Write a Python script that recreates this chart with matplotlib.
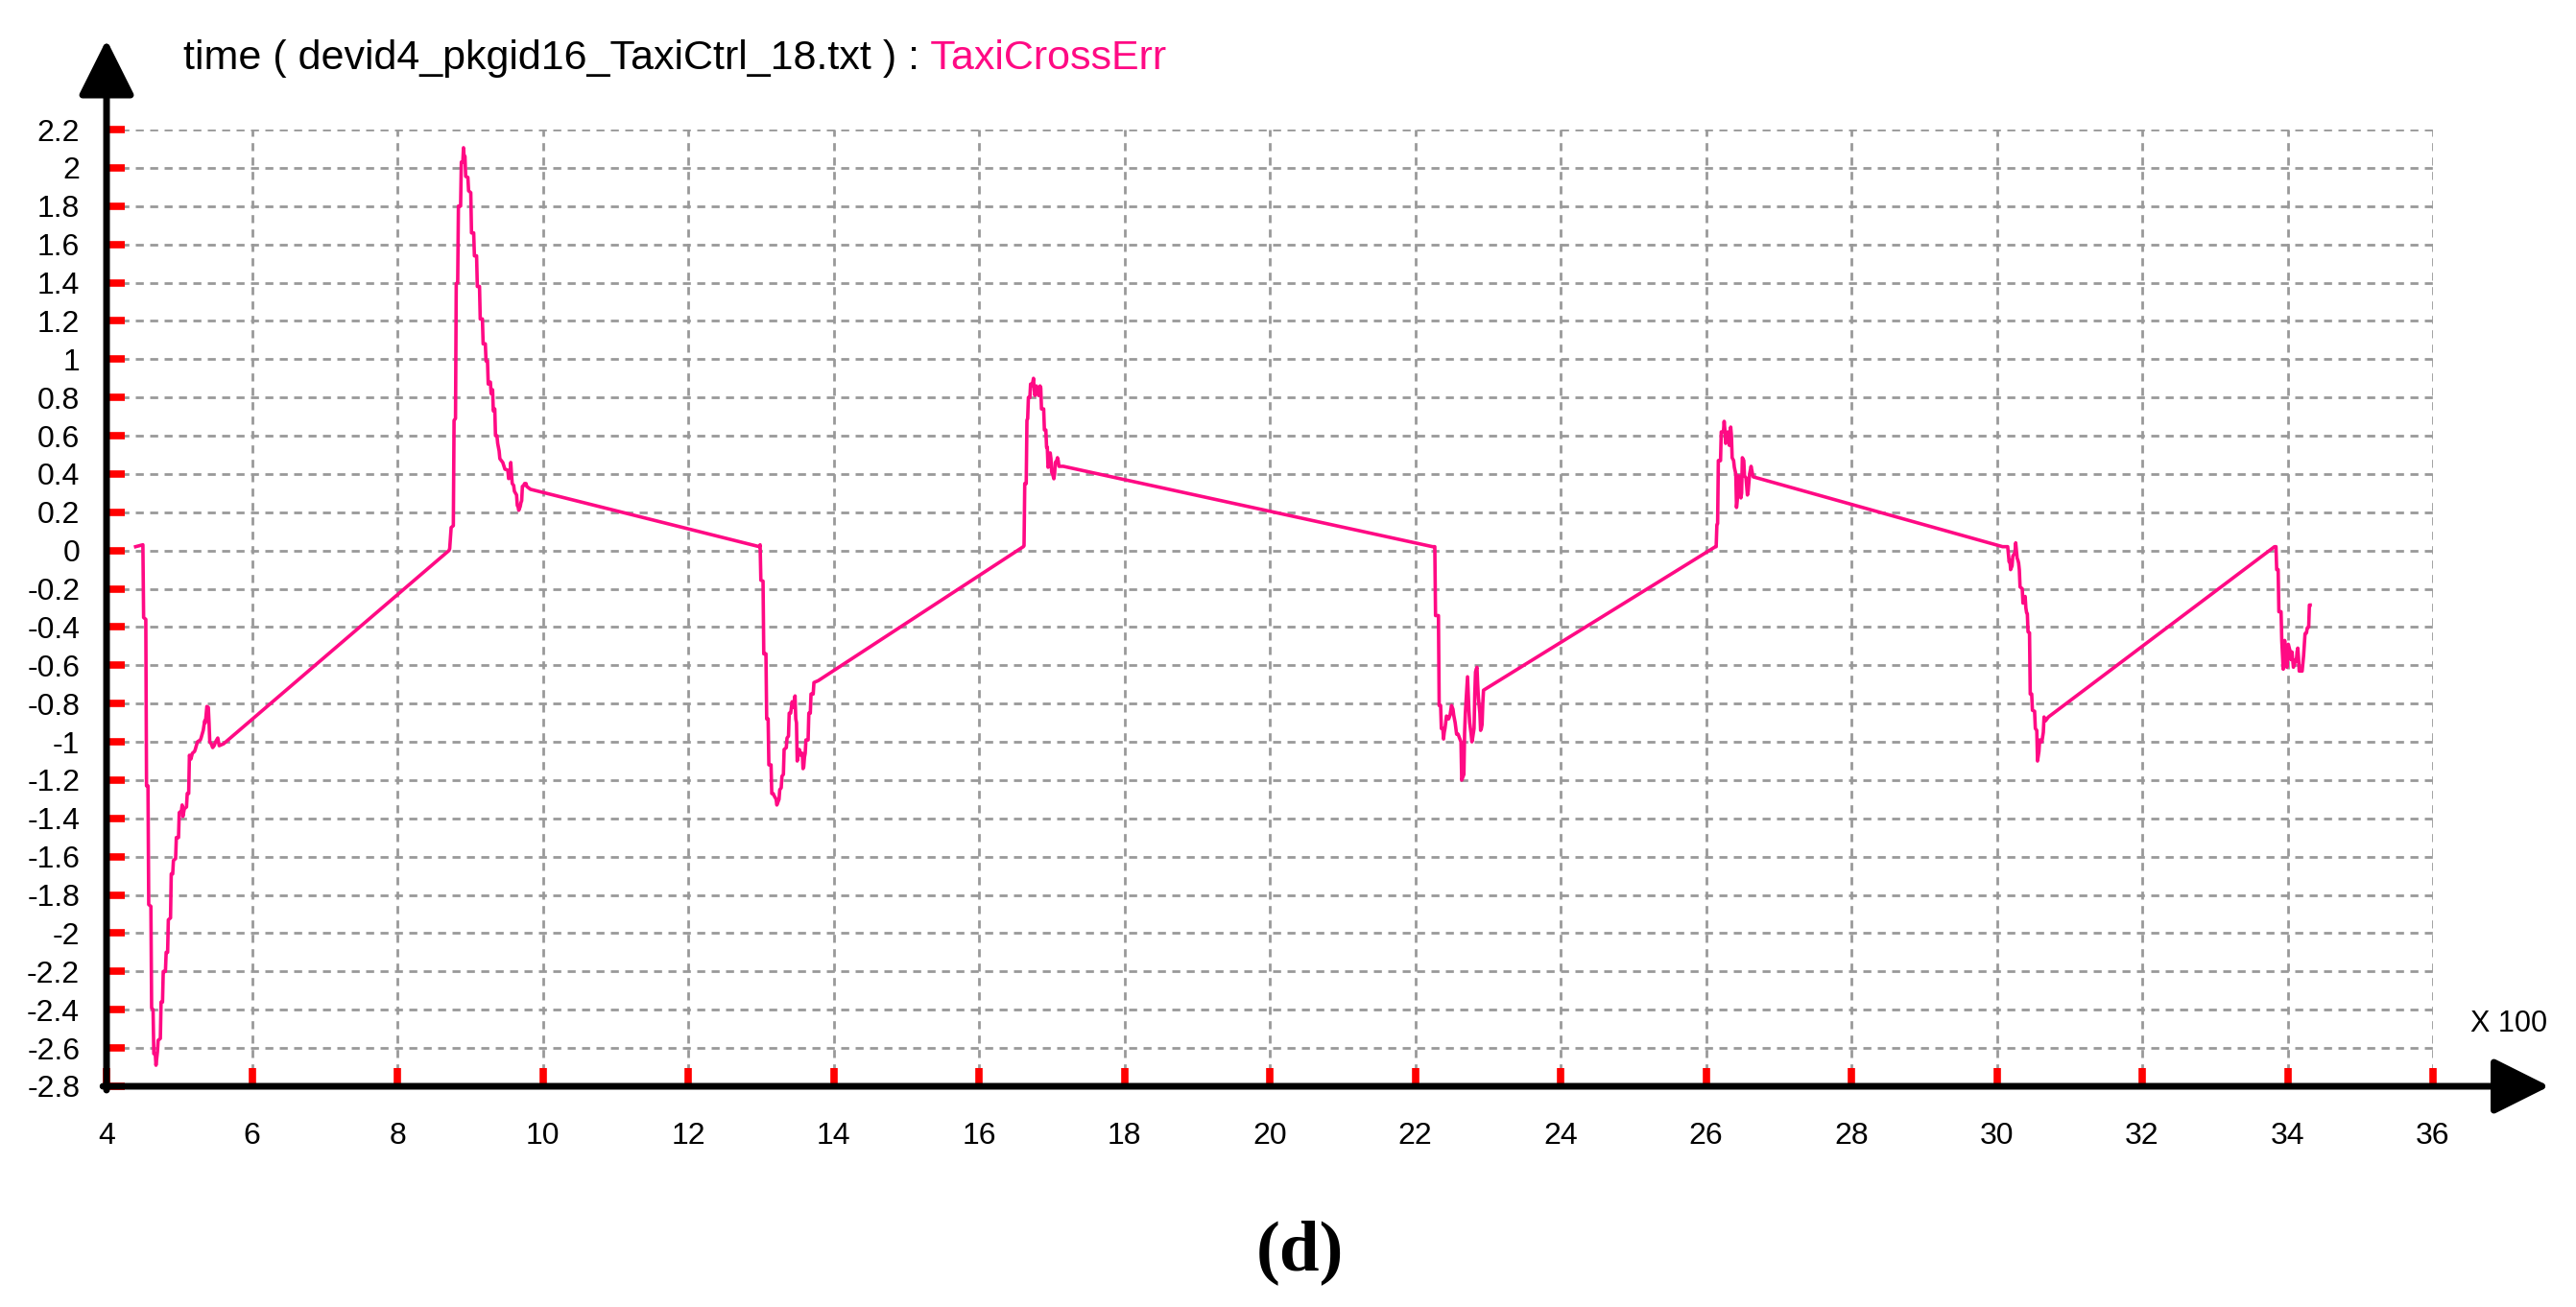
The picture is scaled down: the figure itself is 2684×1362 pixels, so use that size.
import matplotlib.pyplot as plt

# time axis (x 100) and TaxiCrossErr values
time_x100 = [
    4.40, 4.50, 4.51, 4.54, 4.55, 4.57, 4.58, 4.61, 4.62, 4.64, 4.65, 4.67, 4.68, 4.70, 4.71, 4.74,
    4.75, 4.77, 4.78, 4.81, 4.82, 4.84, 4.85, 4.88, 4.89, 4.91, 4.92, 4.95, 4.96, 4.99, 5.00, 5.03,
    5.04, 5.05, 5.07, 5.10, 5.11, 5.13, 5.14, 5.16, 5.18, 5.21, 5.22, 5.25, 5.29, 5.30, 5.33, 5.35,
    5.36, 5.38, 5.40, 5.41, 5.42, 5.44, 5.46, 5.48, 5.50, 5.53, 5.55, 5.61,
    8.71,
    8.72, 8.74, 8.77, 8.78, 8.80, 8.81, 8.83, 8.84, 8.87, 8.88, 8.90, 8.91, 8.92, 8.93, 8.94, 8.97,
    8.98, 9.01, 9.02, 9.05, 9.06, 9.09, 9.10, 9.13, 9.14, 9.17, 9.18, 9.21, 9.22, 9.24, 9.25, 9.28,
    9.29, 9.31, 9.32, 9.34, 9.35, 9.37, 9.38, 9.40, 9.41, 9.45, 9.48, 9.52, 9.53, 9.55, 9.56, 9.57,
    9.58, 9.60, 9.61, 9.64, 9.65, 9.66, 9.67, 9.69, 9.70, 9.71, 9.72, 9.74, 9.75, 9.77, 9.78, 9.83,
    12.98,
    12.99, 13.00, 13.03, 13.04, 13.07, 13.08, 13.10, 13.11, 13.14, 13.15, 13.17, 13.18, 13.21, 13.22,
    13.25, 13.26, 13.28, 13.29, 13.31, 13.32, 13.35, 13.36, 13.38, 13.39, 13.41, 13.43, 13.45, 13.47,
    13.48, 13.49, 13.50, 13.52, 13.53, 13.55, 13.57, 13.58, 13.59, 13.60, 13.61, 13.62, 13.65, 13.66,
    13.68, 13.69, 13.72, 13.73, 13.79,
    16.61,
    16.62, 16.63, 16.65, 16.66, 16.67, 16.68, 16.70, 16.71, 16.73, 16.75, 16.76, 16.77, 16.79, 16.80,
    16.82, 16.83, 16.84, 16.85, 16.86, 16.89, 16.90, 16.92, 16.93, 16.94, 16.95, 16.97, 16.98, 16.99,
    17.00, 17.02, 17.03, 17.04, 17.05, 17.07, 17.08, 17.09, 17.10, 17.16,
    22.24,
    22.25, 22.27, 22.28, 22.32, 22.33, 22.35, 22.36, 22.38, 22.39, 22.40, 22.41, 22.42, 22.43, 22.45,
    22.46, 22.48, 22.50, 22.52, 22.53, 22.55, 22.57, 22.59, 22.60, 22.63, 22.64, 22.66, 22.67, 22.68,
    22.69, 22.71, 22.72, 22.73, 22.74, 22.75, 22.76, 22.77, 22.78, 22.79, 22.81, 22.82, 22.83, 22.84,
    22.85, 22.86, 22.87, 22.89, 22.90, 22.91, 22.92, 22.93, 22.94,
    26.13,
    26.14, 26.15, 26.16, 26.17, 26.20, 26.21, 26.24, 26.25, 26.26, 26.27, 26.29, 26.30, 26.31, 26.32,
    26.33, 26.34, 26.35, 26.36, 26.38, 26.39, 26.41, 26.42, 26.43, 26.44, 26.45, 26.46, 26.48, 26.49,
    26.50, 26.52, 26.53, 26.55, 26.57, 26.58, 26.60, 26.61, 26.62, 26.64, 26.65,
    30.08,
    30.15, 30.17, 30.18, 30.19, 30.21, 30.22, 30.25, 30.26, 30.27, 30.28, 30.29, 30.30, 30.31, 30.32,
    30.35, 30.36, 30.38, 30.39, 30.40, 30.41, 30.42, 30.43, 30.45, 30.46, 30.48, 30.49, 30.52, 30.53,
    30.55, 30.56, 30.58, 30.59, 30.61, 30.62, 30.64, 30.65, 30.66, 30.67, 30.69, 30.71,
    33.82,
    33.84, 33.85, 33.87, 33.88, 33.91, 33.92, 33.93, 33.94, 33.95, 33.96, 33.97, 33.99, 34.00, 34.01,
    34.03, 34.04, 34.05, 34.06, 34.07, 34.08, 34.09, 34.11, 34.12, 34.13, 34.14, 34.15, 34.16, 34.18,
    34.20, 34.22, 34.24, 34.26, 34.27, 34.29, 34.30, 34.31,
]
cross_err = [
    0.02, 0.03, -0.35, -0.36, -1.23, -1.23, -1.85, -1.86, -2.39, -2.40, -2.63, -2.63, -2.69, -2.62, -2.56, -2.55,
    -2.36, -2.36, -2.20, -2.20, -2.10, -2.10, -1.93, -1.92, -1.69, -1.69, -1.62, -1.61, -1.50, -1.50, -1.37, -1.36,
    -1.33, -1.39, -1.35, -1.34, -1.27, -1.27, -1.07, -1.09, -1.06, -1.05, -1.04, -1.00, -0.99, -0.98, -0.94, -0.89,
    -0.90, -0.815, -0.82, -0.90, -1.00, -1.01, -1.03, -1.02, -1.00, -0.98, -1.02, -1.01,
    0.00,
    0.01, 0.12, 0.13, 0.68, 0.69, 1.395, 1.40, 1.80, 1.80, 2.03, 2.03, 2.105, 2.05, 2.06, 1.955, 1.95,
    1.88, 1.87, 1.66, 1.66, 1.54, 1.54, 1.38, 1.38, 1.21, 1.21, 1.08, 1.08, 0.99, 0.99, 0.87, 0.88,
    0.82, 0.84, 0.73, 0.74, 0.60, 0.60, 0.56, 0.52, 0.48, 0.46, 0.425, 0.42, 0.376, 0.38, 0.46, 0.40,
    0.35, 0.34, 0.31, 0.29, 0.235, 0.23, 0.21, 0.23, 0.25, 0.26, 0.335, 0.34, 0.35, 0.35, 0.335, 0.32,
    0.02,
    0.03, -0.155, -0.16, -0.54, -0.54, -0.88, -0.88, -1.12, -1.12, -1.27, -1.27, -1.28, -1.30, -1.33,
    -1.30, -1.25, -1.24, -1.18, -1.17, -1.04, -1.03, -0.98, -0.97, -0.85, -0.85, -0.79, -0.82, -0.76,
    -0.88, -0.90, -1.10, -1.05, -1.04, -1.07, -1.06, -1.14, -1.13, -1.08, -1.06, -0.99, -0.99, -0.85,
    -0.85, -0.75, -0.75, -0.69, -0.68,
    0.02,
    0.025, 0.35, 0.35, 0.68, 0.69, 0.80, 0.80, 0.87, 0.86, 0.90, 0.84, 0.81, 0.86, 0.85,
    0.81, 0.83, 0.86, 0.85, 0.74, 0.74, 0.63, 0.63, 0.54, 0.54, 0.435, 0.45, 0.51, 0.48,
    0.41, 0.39, 0.375, 0.40, 0.46, 0.47, 0.485, 0.47, 0.44, 0.44,
    0.02,
    0.02, 0.02, -0.34, -0.34, -0.81, -0.81, -0.93, -0.93, -0.985, -0.95, -0.93, -0.90, -0.865, -0.87,
    -0.88, -0.86, -0.81, -0.83, -0.86, -0.90, -0.96, -0.96, -0.97, -1.00, -1.20, -1.18, -1.17, -0.95,
    -0.85, -0.72, -0.66, -0.75, -0.84, -0.90, -0.93, -0.96, -1.00, -0.98, -0.93, -0.75, -0.635, -0.62,
    -0.61, -0.70, -0.77, -0.85, -0.94, -0.93, -0.91, -0.80, -0.73,
    0.02,
    0.02, 0.135, 0.14, 0.47, 0.47, 0.62, 0.62, 0.675, 0.63, 0.56, 0.58, 0.62, 0.60, 0.55,
    0.58, 0.645, 0.60, 0.485, 0.47, 0.435, 0.40, 0.225, 0.26, 0.34, 0.39, 0.36, 0.275, 0.30,
    0.485, 0.47, 0.39, 0.38, 0.29, 0.31, 0.40, 0.42, 0.44, 0.40, 0.385,
    0.02,
    0.02, -0.06, -0.05, -0.10, -0.08, -0.03, -0.01, 0.04, 0.00, -0.04, -0.05, -0.065, -0.10, -0.19,
    -0.20, -0.275, -0.25, -0.24, -0.30, -0.325, -0.33, -0.425, -0.43, -0.75, -0.75, -0.835, -0.84, -0.93,
    -0.94, -1.10, -1.05, -0.99, -1.00, -1.00, -0.95, -0.87, -0.88, -0.89, -0.88, -0.87,
    0.02,
    0.02, -0.10, -0.10, -0.32, -0.32, -0.47, -0.55, -0.62, -0.55, -0.47, -0.52, -0.61, -0.55, -0.49,
    -0.52, -0.57, -0.55, -0.53, -0.57, -0.61, -0.60, -0.57, -0.58, -0.53, -0.51, -0.56, -0.63, -0.63,
    -0.63, -0.55, -0.435, -0.43, -0.405, -0.40, -0.285, -0.285,
]

x_ticks = list(range(4, 37, 2))
y_ticks = [round(-2.8 + 0.2 * i, 1) for i in range(26)]
y_labels = ['%g' % v for v in y_ticks]

line_color = '#ff0a84'
plt.rcParams['font.family'] = ['Liberation Sans', 'DejaVu Sans']

fig = plt.figure(figsize=(26.84, 13.62), dpi=100)
ax = fig.add_axes([0.04136, 0.16887, 0.90313, 0.73201])

ax.plot(time_x100, cross_err, color=line_color, lw=2.6, zorder=3)

ax.set_xlim(4, 36)
ax.set_ylim(-2.8, 2.2)
ax.set_xticks(x_ticks)
ax.set_xticklabels([str(v) for v in x_ticks])
ax.set_yticks(y_ticks)
ax.set_yticklabels(y_labels)
ax.tick_params(axis='both', direction='in', length=14, width=5.5, color='red', labelsize=23)
ax.tick_params(axis='y', pad=20)
ax.tick_params(axis='x', pad=27)

# dashed grey grid
ax.grid(True, color='#999999', lw=2.0, dashes=(3.0, 2.4))
for s in ax.spines.values():
    s.set_visible(False)

# black axes with arrow heads
arrow = dict(arrowstyle='-|>,head_length=1.8,head_width=0.9', lw=5, color='black',
             mutation_scale=20, shrinkA=0, shrinkB=0)
ax.annotate('', xy=(37.6, -2.8), xytext=(3.95, -2.8), arrowprops=arrow,
            annotation_clip=False, zorder=10)
ax.annotate('', xy=(4, 2.67), xytext=(4, -2.82), arrowprops=arrow,
            annotation_clip=False, zorder=10)

fig.text(0.9739, 0.2166, 'X 100', fontsize=22, ha='center', va='center')

# two coloured title
t1 = fig.text(0.0712, 0.947, 'time ( devid4_pkgid16_TaxiCtrl_18.txt ) :', fontsize=31,
              ha='left', va='baseline', color='black')
fig.canvas.draw()
bb = t1.get_window_extent()
fig.text(bb.x1 / fig.bbox.width, 0.947, ' TaxiCrossErr', fontsize=31,
         ha='left', va='baseline', color=line_color)

fig.text(0.5048, 0.0286, '(d)', fontsize=54, fontweight='bold', family='Liberation Serif',
         ha='center', va='baseline')

fig.savefig('out.png', dpi=100)
